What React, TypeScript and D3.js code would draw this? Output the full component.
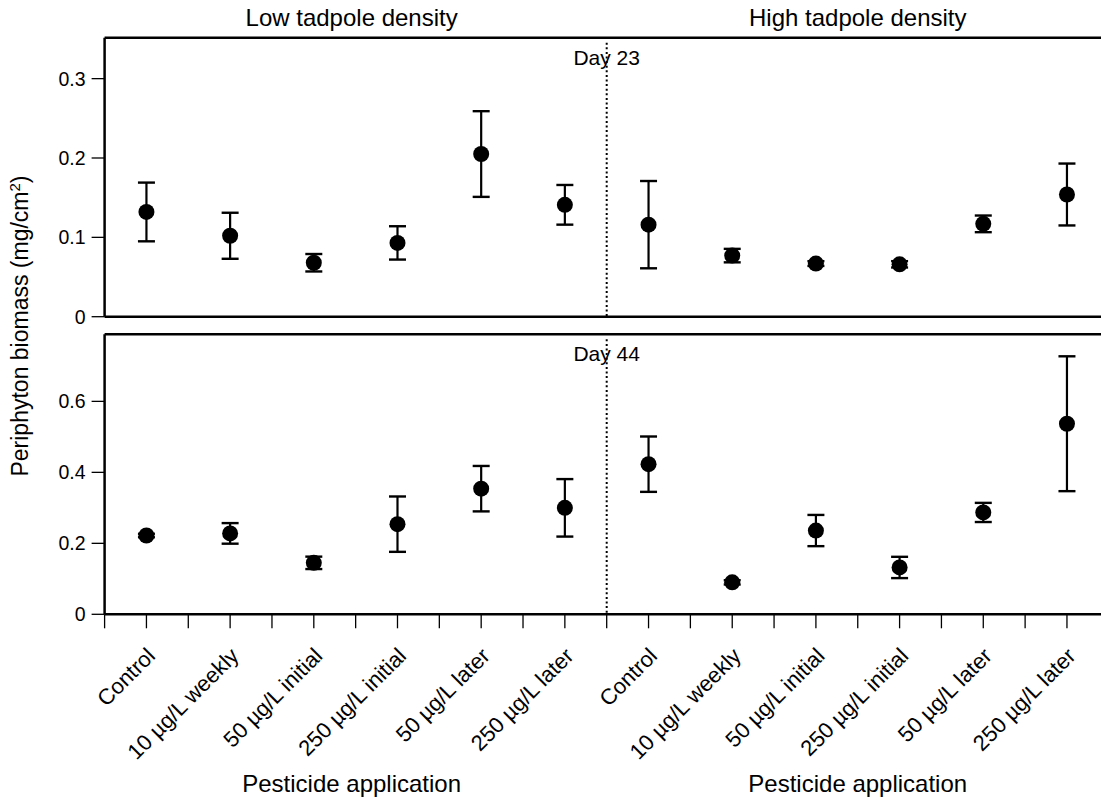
import React from 'react';
import * as d3 from 'd3';

// treatment labels (same order in both density groups)
const treatments = [
  'Control',
  '10 µg/L weekly',
  '50 µg/L initial',
  '250 µg/L initial',
  '50 µg/L later',
  '250 µg/L later',
];

const densities = ['Low tadpole density', 'High tadpole density'];

// Day 23 periphyton biomass (mg/cm2), mean and SE
const lowDay23Mean = [0.132, 0.102, 0.068, 0.093, 0.205, 0.141];
const lowDay23Se = [0.037, 0.029, 0.011, 0.021, 0.054, 0.025];
const highDay23Mean = [0.116, 0.077, 0.067, 0.066, 0.117, 0.154];
const highDay23Se = [0.055, 0.0085, 0.003, 0.004, 0.0105, 0.039];

// Day 44
const lowDay44Mean = [0.222, 0.228, 0.145, 0.254, 0.354, 0.300];
const lowDay44Se = [0.005, 0.029, 0.0175, 0.078, 0.064, 0.081];
const highDay44Mean = [0.423, 0.090, 0.236, 0.132, 0.287, 0.537];
const highDay44Se = [0.078, 0.006, 0.044, 0.030, 0.027, 0.19];

const day23Ticks = [0, 0.1, 0.2, 0.3];
const day44Ticks = [0, 0.2, 0.4, 0.6];

const FONT = '"Liberation Sans", Arial, Helvetica, sans-serif';

const x = d3.scaleLinear().domain([0, 24]).range([104.6, 1108.8]);
const yTop = d3.scaleLinear().domain([0, 0.3516]).range([316.7, 37.7]);
const yBot = d3.scaleLinear().domain([0, 0.789]).range([614.3, 334.3]);

const fmt = (d: number) => (d === 0 ? '0' : d3.format('.1f')(d));

type Panel = {
  label: string;
  y: d3.ScaleLinear<number, number>;
  ticks: number[];
  low: number[];
  lowSe: number[];
  high: number[];
  highSe: number[];
};

const panels: Panel[] = [
  { label: 'Day 23', y: yTop, ticks: day23Ticks, low: lowDay23Mean, lowSe: lowDay23Se, high: highDay23Mean, highSe: highDay23Se },
  { label: 'Day 44', y: yBot, ticks: day44Ticks, low: lowDay44Mean, lowSe: lowDay44Se, high: highDay44Mean, highSe: highDay44Se },
];

const CAP = 8.5;
const R = 8;

function PanelView({ p }: { p: Panel }) {
  const [y0, y1] = p.y.range();
  const points = [
    ...p.low.map((m, i) => ({ pos: 2 * i + 1, m, se: p.lowSe[i] })),
    ...p.high.map((m, i) => ({ pos: 13 + 2 * i, m, se: p.highSe[i] })),
  ];
  return (
    <g>
      {/* frame */}
      <line x1={x(0)} x2={1120} y1={y1} y2={y1} stroke="#000" strokeWidth={2.5} />
      <line x1={x(0)} x2={1120} y1={y0} y2={y0} stroke="#000" strokeWidth={2.5} />
      <line x1={x(0)} x2={x(0)} y1={y1} y2={y0} stroke="#000" strokeWidth={2.5} />

      {/* y axis */}
      {p.ticks.map(t => (
        <g key={t}>
          <line x1={x(0) - 13} x2={x(0)} y1={p.y(t)} y2={p.y(t)} stroke="#000" strokeWidth={1.3} />
          <text x={x(0) - 19} y={p.y(t)} dy="0.36em" textAnchor="end" fontSize={19.5} fontFamily={FONT}>
            {fmt(t)}
          </text>
        </g>
      ))}

      {/* divider */}
      <line x1={x(12)} x2={x(12)} y1={y1 + 5} y2={y0} stroke="#000" strokeWidth={2} strokeDasharray="2,2.6" />
      <text x={x(12)} y={y1 + 27} textAnchor="middle" fontSize={21} fontFamily={FONT}>
        {p.label}
      </text>

      {/* error bars */}
      {points.map((d, i) => {
        const cx = x(d.pos);
        const top = p.y(d.m + d.se);
        const bot = p.y(d.m - d.se);
        return (
          <g key={i}>
            <line x1={cx} x2={cx} y1={top} y2={bot} stroke="#000" strokeWidth={2.2} />
            <line x1={cx - CAP} x2={cx + CAP} y1={top} y2={top} stroke="#000" strokeWidth={2.4} />
            <line x1={cx - CAP} x2={cx + CAP} y1={bot} y2={bot} stroke="#000" strokeWidth={2.4} />
            <circle cx={cx} cy={p.y(d.m)} r={R} fill="#000" />
          </g>
        );
      })}
    </g>
  );
}

export default function App() {
  const axisY = yBot.range()[0];
  return (
    <svg width={1101} height={800} style={{ position: 'absolute', left: 0, top: 0, background: '#fff' }}>
      <rect width={1101} height={800} fill="#fff" />

      {/* density group titles */}
      <text x={(x(0) + x(12)) / 2 - 4} y={26} textAnchor="middle" fontSize={24} fontFamily={FONT}>
        {densities[0]}
      </text>
      <text x={(x(12) + x(24)) / 2} y={26} textAnchor="middle" fontSize={24} fontFamily={FONT}>
        {densities[1]}
      </text>

      {panels.map(p => (
        <PanelView key={p.label} p={p} />
      ))}

      {/* x axis ticks */}
      {d3.range(0, 25).map(t => (
        <line key={t} x1={x(t)} x2={x(t)} y1={axisY} y2={axisY + 14} stroke="#000" strokeWidth={1.3} />
      ))}

      {/* x tick labels */}
      {[0, 1].map(g =>
        treatments.map((t, i) => {
          const px = x(g * 12 + 2 * i + 1) + 10;
          return (
            <text
              key={`${g}-${i}`}
              transform={`translate(${px},${axisY + 43}) rotate(-45)`}
              textAnchor="end"
              fontSize={22}
              fontFamily={FONT}
            >
              {t}
            </text>
          );
        })
      )}

      {/* x axis titles */}
      <text x={(x(0) + x(12)) / 2 - 4} y={792} textAnchor="middle" fontSize={24} fontFamily={FONT}>
        Pesticide application
      </text>
      <text x={(x(12) + x(24)) / 2} y={792} textAnchor="middle" fontSize={24} fontFamily={FONT}>
        Pesticide application
      </text>

      {/* y axis title */}
      <text transform={`translate(28,${(yTop.range()[1] + axisY) / 2}) rotate(-90)`} textAnchor="middle" fontSize={23} fontFamily={FONT}>
        Periphyton biomass (mg/cm<tspan fontSize={15} dy={-8}>2</tspan><tspan dy={8}>)</tspan>
      </text>
    </svg>
  );
}
